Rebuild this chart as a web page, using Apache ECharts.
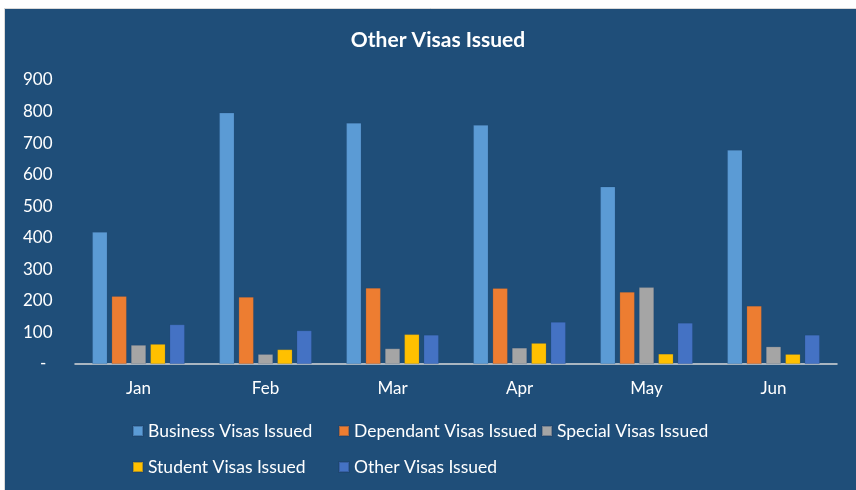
<!DOCTYPE html>
<html>
<head>
<meta charset="utf-8">
<script src="https://cdn.jsdelivr.net/npm/echarts@6/dist/echarts.min.js"></script>
<style>html,body{margin:0;padding:0;background:#fff}#c{width:856px;height:490px}</style>
</head>
<body>
<div id="c"></div>
<script>
const months = ['Jan', 'Feb', 'Mar', 'Apr', 'May', 'Jun'];
const businessVisas = [418, 796, 764, 757, 562, 678];
const dependantVisas = [215, 212, 241, 240, 228, 184];
const specialVisas = [60, 31, 49, 51, 243, 55];
const studentVisas = [63, 46, 94, 66, 32, 31];
const otherVisas = [125, 106, 92, 133, 130, 92];
const seriesNames = ['Business Visas Issued', 'Dependant Visas Issued', 'Special Visas Issued', 'Student Visas Issued', 'Other Visas Issued'];
const seriesData = [businessVisas, dependantVisas, specialVisas, studentVisas, otherVisas];
const colors = ['#5B9BD5', '#ED7D31', '#A5A5A5', '#FFC000', '#4472C4'];

const FONT = 'Lato';
const chart = echarts.init(document.getElementById('c'), null, {renderer: 'canvas'});
const legendPos = [[127, 417], [333, 417], [536, 417], [127, 453], [333, 453]];

chart.setOption({
  backgroundColor: '#ffffff',
  animation: false,
  graphic: [{
    type: 'rect', z: -10, silent: true,
    shape: {x: 4.5, y: 8.5, width: 860, height: 490},
    style: {fill: '#1F4E79', stroke: '#D9D9D9', lineWidth: 1}
  }],
  title: {
    text: 'Other Visas Issued', left: 433, top: 25, textAlign: 'center',
    textStyle: {color: '#ffffff', fontFamily: FONT, fontWeight: 'bold', fontSize: 21}
  },
  legend: seriesNames.map((n, i) => ({
    data: [n], left: legendPos[i][0], top: legendPos[i][1],
    itemWidth: 10, itemHeight: 10, itemGap: 0, icon: 'rect',
    textStyle: {color: '#ffffff', fontFamily: FONT, fontSize: 17.5}
  })),
  grid: {left: 75, right: 19, top: 80, bottom: 126, containLabel: false},
  xAxis: {
    type: 'category', data: months,
    axisLine: {lineStyle: {color: '#D9D9D9', width: 1.5}},
    axisTick: {show: false},
    axisLabel: {color: '#ffffff', fontFamily: FONT, fontSize: 17, margin: 16}
  },
  yAxis: {
    type: 'value', min: 0, max: 900, interval: 100,
    splitLine: {show: false},
    axisLine: {show: false}, axisTick: {show: false},
    axisLabel: {
      color: '#ffffff', fontFamily: FONT, fontSize: 17, align: 'left', margin: 52,
      formatter: v => v === 0 ? '{z|-}' : String(v),
      rich: {z: {color: '#ffffff', fontFamily: FONT, fontSize: 17, padding: [0, 0, 0, 17]}}
    }
  },
  series: seriesNames.map((n, i) => ({
    name: n, type: 'bar', data: seriesData[i],
    barWidth: 15, barGap: '29%',
    itemStyle: {color: colors[i], borderColor: 'rgba(30,60,100,0.35)', borderWidth: 0.5}
  }))
});
</script>
</body>
</html>
